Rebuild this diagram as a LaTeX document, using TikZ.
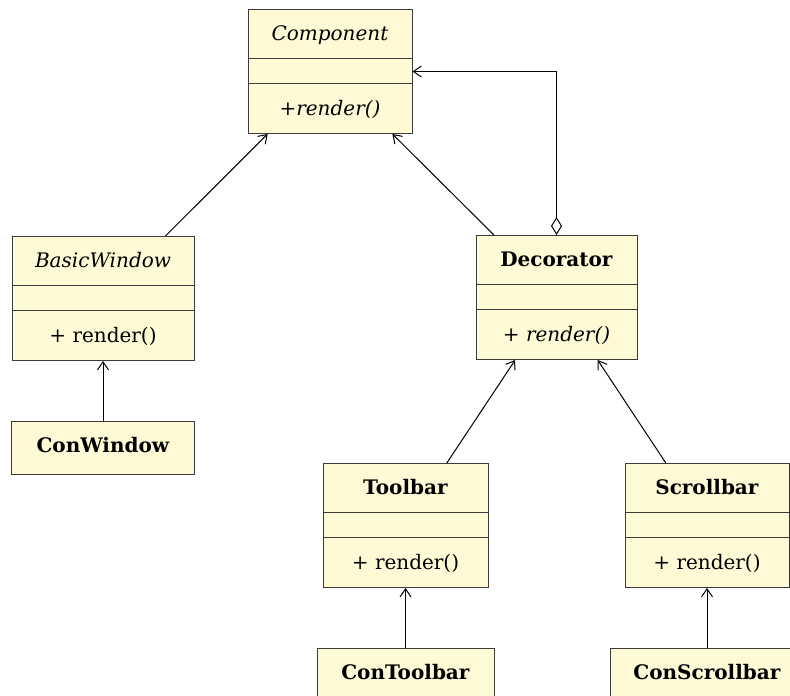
\documentclass[tikz,border=0pt]{standalone}
\usepackage{fontspec}
\setmainfont{DejaVu Serif}
\usetikzlibrary{shapes.multipart,arrows.meta}
\definecolor{cream}{HTML}{FFF9D6}
\definecolor{edge}{HTML}{3C3C3C}
\newcommand{\strutone}{\rule[-18pt]{0pt}{48pt}}
\newcommand{\struttwo}{\rule[-12pt]{0pt}{24pt}}
\newcommand{\strutthree}{\rule[-18pt]{0pt}{49pt}}
\newcommand{\strutcon}{\rule[-22pt]{0pt}{53pt}}
\tikzset{
  cls/.style={rectangle split, rectangle split parts=3, draw=edge, fill=cream,
    line width=1pt, inner ysep=0pt, inner xsep=4pt, anchor=north,
    font=\fontsize{20}{24}\selectfont},
  con/.style={rectangle, draw=edge, fill=cream, line width=1pt, inner ysep=0pt,
    inner xsep=4pt, anchor=north, font=\fontsize{20}{24}\selectfont},
  arr/.style={line width=1pt, -{Straight Barb[length=8pt,width=11pt]}},
  agg/.style={line width=1pt, {Diamond[open,length=18pt,width=11pt]}-{Straight Barb[length=8pt,width=11pt]}}
}
\begin{document}
\begin{tikzpicture}[x=1pt,y=-1pt]
\useasboundingbox (0,0) rectangle (790,696);
\clip (0,0) rectangle (790,696);
\node[cls, minimum width=164pt] (comp) at (330,9)
  {\strutone\textit{Component}\nodepart{two}\struttwo\nodepart{three}\strutthree\textit{+render()}};
\node[cls, minimum width=182pt] (bw) at (103,236)
  {\strutone\textit{BasicWindow}\nodepart{two}\struttwo\nodepart{three}\strutthree+ render()};
\node[con, minimum width=183pt] (cw) at (103,421)
  {\strutcon\textbf{ConWindow}};
\node[cls, minimum width=161pt] (dec) at (556.5,235)
  {\strutone\textbf{Decorator}\nodepart{two}\struttwo\nodepart{three}\strutthree+ \textit{render()}};
\node[cls, minimum width=165pt] (tb) at (405.5,463)
  {\strutone\textbf{Toolbar}\nodepart{two}\struttwo\nodepart{three}\strutthree+ render()};
\node[con, minimum width=177pt] (ctb) at (405.5,648)
  {\strutcon\textbf{ConToolbar}};
\node[cls, minimum width=164pt] (sb) at (707,463)
  {\strutone\textbf{Scrollbar}\nodepart{two}\struttwo\nodepart{three}\strutthree+ render()};
\node[con, minimum width=193pt] (csb) at (707,648)
  {\strutcon\textbf{ConScrollbar}};
\draw[arr] (bw) -- (comp);
\draw[arr] (dec) -- (comp);
\draw[arr] (cw) -- (bw);
\draw[arr] (tb) -- (dec);
\draw[arr] (sb) -- (dec);
\draw[arr] (ctb) -- (tb);
\draw[arr] (csb) -- (sb);
\draw[agg] (dec.north) |- (comp.east);
\end{tikzpicture}
\end{document}
